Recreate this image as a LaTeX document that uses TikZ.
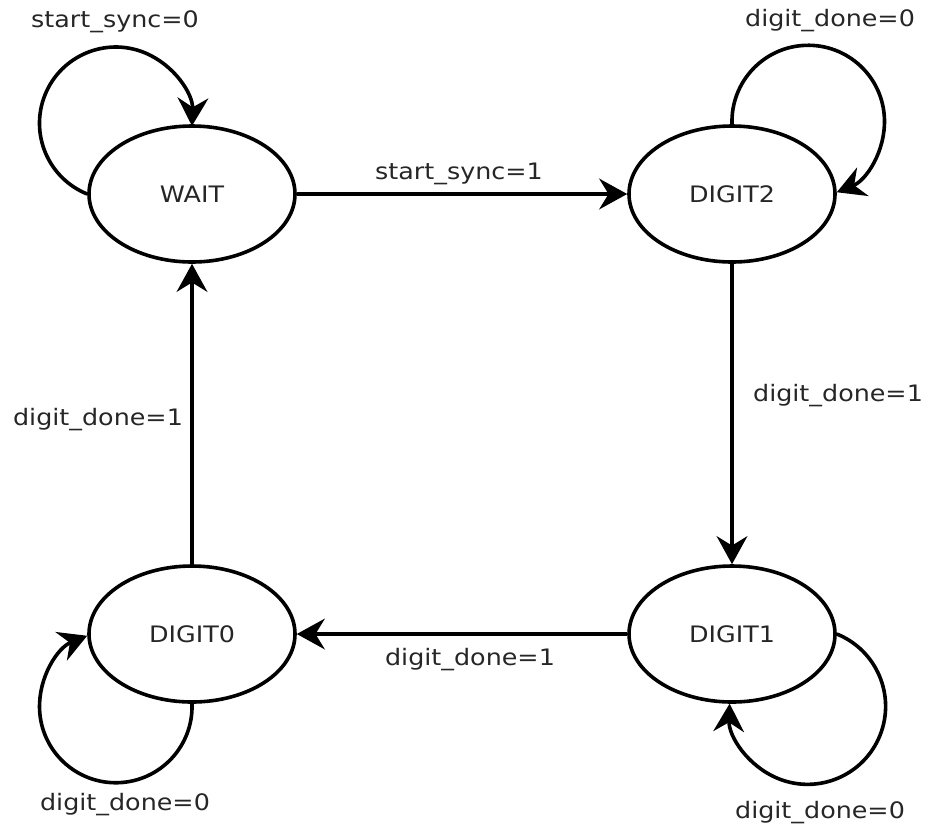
\documentclass[tikz,border=0pt]{standalone}
\usepackage{fontspec}
\setmainfont{DejaVu Sans}[FakeStretch=1.12]
\usetikzlibrary{arrows.meta,shapes.geometric}

\tikzset{
  state/.style={ellipse, draw=black, line width=2.7pt, fill=white,
    minimum width=154.5pt, minimum height=102pt, inner sep=0pt,
    font=\fontsize{17}{20}\selectfont, text=black!85},
  lbl/.style={inner sep=0pt, font=\fontsize{17}{20}\selectfont, text=black!85},
  trans/.style={draw=black, line width=2.7pt,
    -{Stealth[length=21pt, width=23pt, inset=7pt]}},
}

\begin{document}
\begin{tikzpicture}[x=0.75pt, y=0.75pt]
  \useasboundingbox (0,0) rectangle (927,-826);

  % states
  \node[state] (wait)   at (192,-194) {WAIT};
  \node[state] (digit2) at (732,-194) {DIGIT2};
  \node[state] (digit0) at (192,-634) {DIGIT0};
  \node[state] (digit1) at (732,-634) {DIGIT1};

  % transitions around the cycle
  \draw[trans] (wait.east) -- (digit2.west);
  \draw[trans] (digit2.south) -- (digit1.north);
  \draw[trans] (digit1.west) -- (digit0.east);
  \draw[trans] (digit0.north) -- (wait.south);

  % self loops: circular arcs of radius 57.2pt
  \draw[trans] (wait.west)    arc[start angle=248, end angle=-2,   radius=57.2pt];
  \draw[trans] (digit2.north) arc[start angle=182, end angle=-68,  radius=57.2pt];
  \draw[trans] (digit0.south) arc[start angle=2,   end angle=-248, radius=57.2pt];
  \draw[trans] (digit1.east)  arc[start angle=68,  end angle=-182, radius=58.5pt];

  % transition conditions
  \node[lbl] (lwait)    at (115,-22)  {start\_sync=0};
  \node[lbl] (ldigtwo)  at (830,-21)  {digit\_done=0};
  \node[lbl] (lgo)      at (459,-174) {start\_sync=1};
  \node[lbl] (ldown)    at (838,-396) {digit\_done=1};
  \node[lbl] (lup)      at (98,-420)  {digit\_done=1};
  \node[lbl] (lleft)    at (470,-660) {digit\_done=1};
  \node[lbl] (ldigzero) at (125,-805) {digit\_done=0};
  \node[lbl] (ldigone)  at (820,-813) {digit\_done=0};
\end{tikzpicture}
\end{document}
